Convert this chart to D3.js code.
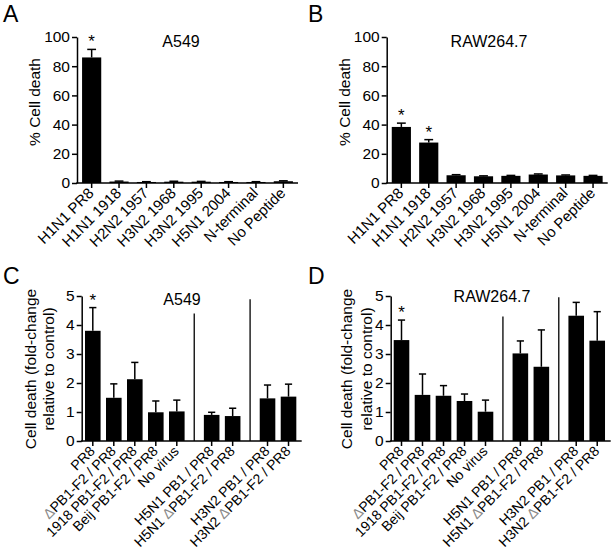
<!DOCTYPE html>
<html><head><meta charset="utf-8">
<script src="https://cdn.jsdelivr.net/npm/d3@7"></script>
<style>
body{margin:0;background:#fff;}
svg{display:block;font-family:"Liberation Sans",Arial,sans-serif;}
</style></head><body>
<svg id="c" width="612" height="556"></svg>
<script>
// ---- data ----
const pepCategories = ["H1N1 PR8","H1N1 1918","H2N2 1957","H3N2 1968","H3N2 1995","H5N1 2004","N-terminal","No Peptide"];
const aValues = [86, 1.0, 0.7, 0.9, 0.9, 0.7, 0.7, 1.2];
const aErrors = [5.5, 0.3, 0.2, 0.3, 0.2, 0.2, 0.2, 0.3];
const aSig = [true,false,false,false,false,false,false,false];
const bValues = [38.4, 27.7, 5.3, 4.6, 4.9, 5.8, 5.2, 4.9];
const bErrors = [2.6, 2.0, 0.4, 0.3, 0.3, 0.4, 0.3, 0.3];
const bSig = [true,true,false,false,false,false,false,false];
const pctTicks = [0,20,40,60,80,100];

const virusCategories = ["PR8","ΔPB1-F2 / PR8","1918 PB1-F2 / PR8","Beij PB1-F2 / PR8","No virus","H5N1 PB1 / PR8","H5N1 ΔPB1-F2 / PR8","H3N2 PB1 / PR8","H3N2 ΔPB1-F2 / PR8"];
const virusGroups = [0,0,0,0,0,1,1,2,2];
const cValues = [3.8, 1.49, 2.13, 0.99, 1.02, 0.9, 0.86, 1.47, 1.53];
const cErrors = [0.8, 0.48, 0.58, 0.39, 0.39, 0.09, 0.27, 0.46, 0.43];
const cSig = [true,false,false,false,false,false,false,false,false];
const cSeparators = [4.4, 4.89];
const dValues = [3.48, 1.59, 1.56, 1.38, 1.01, 3.02, 2.56, 4.32, 3.46];
const dErrors = [0.69, 0.72, 0.35, 0.24, 0.40, 0.43, 1.27, 0.46, 1.00];
const dSig = [true,false,false,false,false,false,false,false,false];
const dSeparators = [4.29, 4.96];
const foldTicks = [0,1,2,3,4,5];

const svg = d3.select("#c");
const FONT_TICK = 15.5;
const FONT_YLAB = 15.5;
const FONT_TITLE = 16;

function panelLetter(t, x, y){
  svg.append("text").attr("x",x).attr("y",y).attr("font-size",23).text(t);
}

function drawAxes(g, x0, x1, y, yAxisScale, ticks, xTicksPos){
  const ya = d3.axisLeft(yAxisScale).tickValues(ticks).tickFormat(d3.format("d"))
    .tickSize(5).tickPadding(2).tickSizeOuter(0);
  const yg = g.append("g").attr("transform",`translate(${x0},0)`).call(ya);
  yg.select(".domain").attr("stroke","#000").attr("stroke-width",1.5);
  yg.selectAll(".tick line").attr("stroke-width",1.5);
  yg.selectAll(".tick text").attr("font-size",FONT_TICK)
    .attr("font-family","'Liberation Sans',Arial,sans-serif").attr("fill","#000");
  g.append("line").attr("x1",x0-0.75).attr("x2",x1).attr("y1",y).attr("y2",y).attr("stroke","#000").attr("stroke-width",1.5);
  g.selectAll(null).data(xTicksPos).join("line")
    .attr("x1",d=>d).attr("x2",d=>d).attr("y1",y).attr("y2",y+5).attr("stroke","#000").attr("stroke-width",1.5);
}

function drawBars(g, xs, bw, yS, vals, errs, sig){
  g.selectAll(null).data(vals).join("rect")
    .attr("x",(d,i)=>xs[i]-bw/2).attr("width",bw)
    .attr("y",d=>yS(d)).attr("height",d=>yS(0)-yS(d)).attr("fill","#000");
  g.selectAll(null).data(vals).join("line")
    .attr("x1",(d,i)=>xs[i]).attr("x2",(d,i)=>xs[i])
    .attr("y1",d=>yS(d)).attr("y2",(d,i)=>yS(d+errs[i]))
    .attr("stroke","#000").attr("stroke-width",1.5);
  g.selectAll(null).data(vals).join("line")
    .attr("x1",(d,i)=>xs[i]-bw*0.23).attr("x2",(d,i)=>xs[i]+bw*0.23)
    .attr("y1",(d,i)=>yS(d+errs[i])).attr("y2",(d,i)=>yS(d+errs[i]))
    .attr("stroke","#000").attr("stroke-width",1.5);
  g.selectAll(null).data(vals.map((d,i)=>({d,i})).filter(o=>sig[o.i])).join("text")
    .attr("x",o=>xs[o.i]).attr("y",o=>yS(o.d+errs[o.i])-2)
    .attr("text-anchor","middle").attr("font-size",17).text("*");
}

function xLabels(g, xs, y, cats, fs){
  const t = g.selectAll(null).data(cats).join("text")
    .attr("text-anchor","end").attr("font-size",fs)
    .attr("transform",(d,i)=>`translate(${xs[i]+3},${y+11}) rotate(-45)`);
  t.each(function(d){
    const s = d3.select(this);
    const parts = d.split("Δ");
    parts.forEach((p,k)=>{
      if(k>0) s.append("tspan").attr("fill","#8a8a8a").text("Δ");
      if(p) s.append("tspan").text(p);
    });
  });
}

function pctPanel(x0, vals, errs, sig, title, titleX, labelX){
  const g = svg.append("g");
  const x = d3.scaleBand().domain(pepCategories).range([x0, x0+221]).paddingInner(0.3).paddingOuter(0.185);
  const y = d3.scaleLinear().domain([0,100]).range([183,37]);
  const xs = pepCategories.map(c=>x(c)+x.bandwidth()/2);
  drawBars(g, xs, x.bandwidth(), y, vals, errs, sig);
  drawAxes(g, x0, x0+221, 183, y, pctTicks, xs);
  xLabels(g, xs, 183, pepCategories, 15);
  g.append("text").attr("x",titleX).attr("y",47).attr("text-anchor","middle").attr("font-size",FONT_TITLE).text(title);
  g.append("text").attr("transform",`translate(${labelX},102) rotate(-90)`).attr("text-anchor","middle").attr("font-size",FONT_YLAB).text("% Cell death");
}
pctPanel(77, aValues, aErrors, aSig, "A549", 181, 40);
pctPanel(386.7, bValues, bErrors, bSig, "RAW264.7", 489, 350);
panelLetter("A",3,22);
panelLetter("B",308,22);

function foldPanel(x0, firstCenter, vals, errs, sig, seps, title, titleX, titleY, lab1X, lab2X){
  const g = svg.append("g");
  const slot = d3.scaleLinear().domain([0,1]).range([firstCenter, firstCenter+21]);
  const gap = 0.66;
  const pos = virusCategories.map((c,i)=>i + virusGroups[i]*gap);
  const xs = pos.map(p=>slot(p));
  const y = d3.scaleLinear().domain([0,5]).range([441,296]);
  drawBars(g, xs, 15.6, y, vals, errs, sig);
  drawAxes(g, x0, x0+220, 441, y, foldTicks, xs);
  const sepPos = [ (4 + 5+gap)/2, (6+gap + 7+2*gap)/2 ];
  g.selectAll(null).data(seps).join("line")
    .attr("x1",(d,i)=>slot(sepPos[i])).attr("x2",(d,i)=>slot(sepPos[i]))
    .attr("y1",y(0)).attr("y2",d=>y(d)).attr("stroke","#000").attr("stroke-width",1.3);
  xLabels(g, xs, 441, virusCategories, 14);
  g.append("text").attr("x",titleX).attr("y",titleY).attr("text-anchor","middle").attr("font-size",FONT_TITLE).text(title);
  g.append("text").attr("transform",`translate(${lab1X},369) rotate(-90)`).attr("text-anchor","middle").attr("font-size",FONT_YLAB).text("Cell death (fold-change");
  g.append("text").attr("transform",`translate(${lab2X},369) rotate(-90)`).attr("text-anchor","middle").attr("font-size",FONT_YLAB).text("relative to control)");
}
foldPanel(81.7, 92.8, cValues, cErrors, cSig, cSeparators, "A549", 182, 305, 36, 54);
foldPanel(390.7, 401.5, dValues, dErrors, dSig, dSeparators, "RAW264.7", 492, 302, 352, 372);
panelLetter("C",3,284);
panelLetter("D",308,284);
</script>
</body></html>
